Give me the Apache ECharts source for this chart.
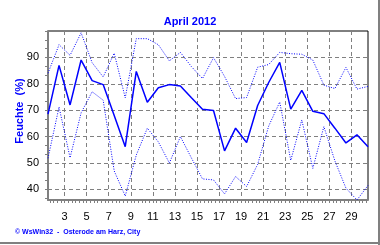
<!DOCTYPE html>
<html>
<head>
<meta charset="utf-8">
<script src="https://cdn.jsdelivr.net/npm/echarts@6/dist/echarts.min.js"></script>
<style>html,body{margin:0;padding:0;background:#fff;}#c{width:380px;height:245px;}</style>
</head>
<body>
<div id="c"></div>
<script>
// Days of April 2012 (each value plotted at the middle of its day)
var days = [1,2,3,4,5,6,7,8,9,10,11,12,13,14,15,16,17,18,19,20,21,22,23,24,25,26,27,28,29,30];
// Humidity in %
var maxVals  = [84, 94.8, 90.8, 99.3, 88, 82.6, 91.6, 74.7, 97.1, 97.1, 94.8, 88.7, 91.9, 86.5, 82, 89.9, 82.8, 74.4, 74.8, 86.3, 87.3, 91.9, 91.4, 91.2, 89, 79.5, 78.2, 86.2, 78, 79];
var meanVals = [68.5, 87, 72, 89, 81.2, 79.7, 68, 56.2, 84.7, 73, 78.5, 79.7, 79.2, 74.7, 70.4, 69.9, 54.6, 63.2, 57.8, 71.8, 80.5, 88.1, 70.4, 77.5, 69.6, 68.7, 63.2, 57.6, 60.7, 56.2];
var minVals  = [51.8, 71.2, 52, 69, 77, 73.8, 47, 37.5, 53, 63.2, 58, 50, 60, 51.9, 44, 43.6, 38.3, 44.9, 41.1, 49.5, 64, 73.1, 51, 66.3, 48, 63.8, 50.8, 40.5, 36, 41.5];
// Tick labels
var xLabels = [3,5,7,9,11,13,15,17,19,21,23,25,27,29];
var yLabels = [40,50,60,70,80,90];

var xMinor = []; for (var k = 5; k <= 91; k++) xMinor.push(k / 3);
var yMinor = []; for (var j = 11; j <= 30; j++) yMinor.push(j * 10 / 3);

function pts(vals) { return days.map(function (d, i) { return [d + 0.5, vals[i]]; }); }

var BLUE = '#0000ff', GRAY = '#808080', FONT = 'Liberation Sans, Arial, sans-serif';
var chart = echarts.init(document.getElementById('c'), null, {renderer: 'canvas'});
chart.setOption({
  animation: false,
  backgroundColor: '#fff',
  title: {text: 'April 2012', left: 'center', top: 11,
    textStyle: {color: BLUE, fontSize: 11, fontWeight: 'bold', fontFamily: FONT}},
  grid: {left: 48, right: 12, top: 31, bottom: 45, show: true, borderColor: '#000', borderWidth: 1, backgroundColor: 'transparent'},
  xAxis: [{
    type: 'value', min: 1.5, max: 30.5, position: 'bottom',
    axisLine: {show: true, lineStyle: {color: GRAY, width: 2}},
    axisTick: {show: false, customValues: xLabels},
    axisLabel: {customValues: xLabels, color: '#000', fontSize: 11, fontFamily: FONT, margin: 11},
    splitLine: {show: true, lineStyle: {color: GRAY, type: [4, 3], width: 1}}
  }, {
    type: 'value', min: 1.5, max: 30.5, position: 'bottom',
    axisLine: {show: false},
    axisTick: {show: true, customValues: xMinor, length: 3, lineStyle: {color: GRAY}},
    axisLabel: {show: false},
    splitLine: {show: false}
  }],
  yAxis: [{
    type: 'value', min: 36, max: 100, position: 'left',
    axisLine: {show: true, lineStyle: {color: GRAY, width: 2}},
    axisTick: {show: false, customValues: yLabels},
    axisLabel: {customValues: yLabels, color: '#000', fontSize: 11, fontFamily: FONT, margin: 9},
    splitLine: {show: true, lineStyle: {color: GRAY, type: [4, 3], width: 1}}
  }, {
    type: 'value', min: 36, max: 100, position: 'left', offset: 0,
    axisLine: {show: false},
    axisTick: {show: true, customValues: yMinor, length: 3, lineStyle: {color: GRAY}},
    axisLabel: {show: false},
    splitLine: {show: false}
  }],
  series: [
    {name: 'Max', type: 'line', data: pts(maxVals), symbol: 'none', xAxisIndex: 0, yAxisIndex: 0,
      lineStyle: {color: BLUE, width: 1, type: [1, 1.5]}},
    {name: 'Mittel', type: 'line', data: pts(meanVals), symbol: 'none', xAxisIndex: 0, yAxisIndex: 0,
      lineStyle: {color: BLUE, width: 1.5}},
    {name: 'Min', type: 'line', data: pts(minVals), symbol: 'none', xAxisIndex: 0, yAxisIndex: 0,
      lineStyle: {color: BLUE, width: 1, type: [1, 1.5]}}
  ],
  graphic: [
    {type: 'text', x: 20, y: 111, rotation: Math.PI / 2,
      style: {text: 'Feuchte  (%)', fill: BLUE, font: 'bold 11px ' + FONT, textAlign: 'center', textVerticalAlign: 'middle'}},
    {type: 'text', x: 15, y: 232,
      style: {text: '© WsWin32  -  Osterode am Harz, City', fill: BLUE, font: 'bold 7px ' + FONT, textAlign: 'left', textVerticalAlign: 'middle'}},
    {type: 'rect', shape: {x: 378, y: 0, width: 2, height: 245}, style: {fill: GRAY}},
    {type: 'rect', shape: {x: 0, y: 242, width: 380, height: 2}, style: {fill: GRAY}}
  ]
});
</script>
</body>
</html>
